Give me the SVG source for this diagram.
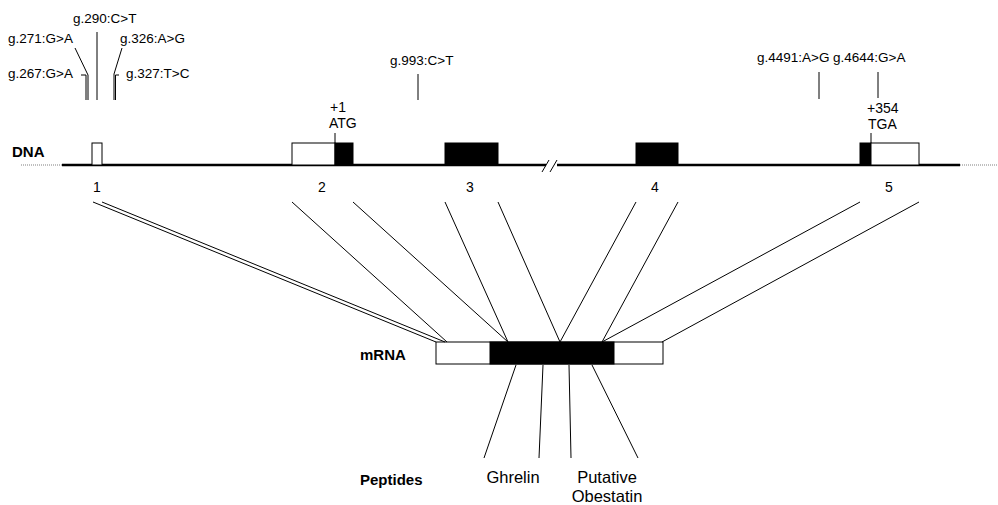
<svg xmlns="http://www.w3.org/2000/svg" width="998" height="505" viewBox="0 0 998 505">
<style>
text{font-family:"Liberation Sans",Arial,sans-serif;fill:#000}
.g{font-size:13.5px}
.s{font-size:14px}
.p{font-size:16.5px}
.b{font-size:15px;font-weight:bold}
.ln{stroke:#000;stroke-width:1;fill:none}
.ex{stroke:#000;stroke-width:1;fill:#fff}
.cd{stroke:#000;stroke-width:1;fill:#000}
.dna{stroke:#000;stroke-width:2.5;fill:none}
.dot{stroke:#aaa;stroke-width:1.5;stroke-dasharray:1 1;fill:none}
</style>
<rect width="998" height="505" fill="#fff"/>
<g id="labels">
<text class="b" x="12" y="157">DNA</text>
<text class="b" x="360" y="360">mRNA</text>
<text class="b" x="360" y="485">Peptides</text>
</g>
<g id="dna">
<path class="dot" d="M21 165H63M960 165H998"/>
<path class="dna" d="M62 165H546M557 165H960"/>
<path class="ln" d="M542 172L549 160M550 172L557 160"/>
</g>
<g id="exon1">
<rect class="ex" x="92" y="143" width="10" height="22"/>
<text class="s" x="97" y="192" text-anchor="middle">1</text>
</g>
<g id="exon2">
<rect class="ex" x="292" y="143" width="43" height="22"/>
<rect class="cd" x="335" y="143" width="18" height="22"/>
<path class="ln" d="M335 133V143"/>
<text class="s" x="330" y="112">+1</text>
<text class="s" x="329" y="128">ATG</text>
<text class="s" x="322" y="192" text-anchor="middle">2</text>
</g>
<g id="exon3">
<rect class="cd" x="445" y="143" width="53" height="22"/>
<text class="s" x="470" y="192" text-anchor="middle">3</text>
</g>
<g id="exon4">
<rect class="cd" x="636" y="143" width="42" height="22"/>
<text class="s" x="655" y="192" text-anchor="middle">4</text>
</g>
<g id="exon5">
<rect class="cd" x="860" y="143" width="11" height="22"/>
<rect class="ex" x="871" y="143" width="48" height="22"/>
<path class="ln" d="M871 133V143"/>
<text class="s" x="867" y="113">+354</text>
<text class="s" x="868" y="129">TGA</text>
<text class="s" x="889" y="192" text-anchor="middle">5</text>
</g>
<g id="snps">
<text class="g" x="73" y="23">g.290:C&gt;T</text>
<text class="g" x="8" y="43">g.271:G&gt;A</text>
<text class="g" x="120" y="43">g.326:A&gt;G</text>
<text class="g" x="8" y="78">g.267:G&gt;A</text>
<text class="g" x="126" y="78">g.327:T&gt;C</text>
<text class="g" x="390" y="65">g.993:C&gt;T</text>
<text class="g" x="757" y="62">g.4491:A&gt;G</text>
<text class="g" x="833" y="62">g.4644:G&gt;A</text>
<path class="ln" d="M97 32V100M75 48L88 75V100M81 75H86V100M122 48L114 74V100M119 75H115.5V100M418 74V100M819 72V99M878 72V98"/>
</g>
<g id="mrna">
<rect class="ex" x="436" y="342" width="227" height="22"/>
<rect class="cd" x="490" y="342" width="124" height="22"/>
</g>
<g id="connectors">
<path class="ln" d="M93 202L436 342M102 202L445 342M292 202L447 342M353 202L508 342M445 202L508 342M498 202L560 342M636 202L560 342M678 202L602 342M860 202L602 342M919 202L662 342"/>
<path class="ln" d="M516 365L484 458M543 365L539 458M569 365L571 458M592 365L638 458"/>
</g>
<g id="peptides">
<text class="p" x="513" y="483" text-anchor="middle">Ghrelin</text>
<text class="p" x="607" y="483" text-anchor="middle">Putative</text>
<text class="p" x="607" y="502" text-anchor="middle">Obestatin</text>
</g>
</svg>
